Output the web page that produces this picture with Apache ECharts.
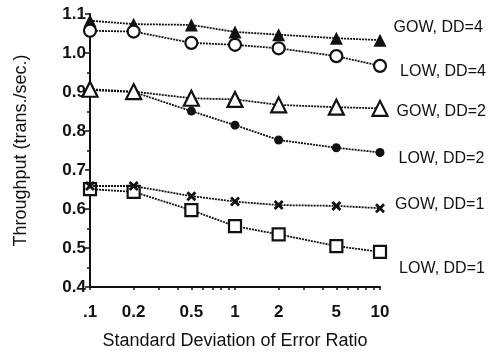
<!DOCTYPE html>
<html>
<head>
<meta charset="utf-8">
<script src="https://cdn.jsdelivr.net/npm/echarts@6/dist/echarts.min.js"></script>
<style>
  html, body { margin: 0; padding: 0; background: #fff; }
  #chart { width: 493px; height: 353px; }
</style>
</head>
<body>
<div id="chart"></div>
<script>
// Standard deviation of error ratio (log scale)
const sdRatio = [0.1, 0.2, 0.5, 1, 2, 5, 10];
const xTickLabels = ['.1', '0.2', '0.5', '1', '2', '5', '10'];
const xMinorTicks = [0.1, 0.2, 0.3, 0.4, 0.5, 0.6, 0.7, 0.8, 0.9, 1, 2, 3, 4, 5, 6, 7, 8, 9, 10];

// Throughput (trans./sec.)
const gowDD4 = [1.083, 1.074, 1.072, 1.054, 1.047, 1.038, 1.033];
const lowDD4 = [1.057, 1.055, 1.026, 1.021, 1.012, 0.992, 0.967];
const gowDD2 = [0.907, 0.901, 0.884, 0.881, 0.867, 0.861, 0.858];
const lowDD2 = [0.905, 0.900, 0.851, 0.815, 0.777, 0.757, 0.745];
const gowDD1 = [0.659, 0.659, 0.633, 0.619, 0.610, 0.608, 0.602];
const lowDD1 = [0.651, 0.644, 0.597, 0.556, 0.535, 0.505, 0.490];

const seriesNames = ['GOW, DD=4', 'LOW, DD=4', 'GOW, DD=2', 'LOW, DD=2', 'GOW, DD=1', 'LOW, DD=1'];

const FONT = '"Liberation Sans", Arial, Helvetica, sans-serif';
const crossPath = 'path://M0,2 L2,0 L5,3 L8,0 L10,2 L7,5 L10,8 L8,10 L5,7 L2,10 L0,8 L3,5 Z';

function makeSeries(name, values, style) {
  const data = values.map((v, i) => [sdRatio[i], v]);
  const last = data.length - 1;
  data[last] = {
    value: data[last],
    label: {
      show: true,
      position: 'right',
      formatter: name,
      offset: style.labelOffset,
      color: '#111',
      fontFamily: FONT,
      fontSize: 16
    }
  };
  return {
    name: name,
    type: 'line',
    data: data,
    symbol: style.symbol,
    symbolSize: style.size,
    showAllSymbol: true,
    lineStyle: { color: '#111', width: 1.8, type: [2, 1] },
    itemStyle: {
      color: style.filled ? '#111' : '#fff',
      borderColor: '#111',
      borderWidth: style.filled ? 0 : 2.2
    },
    z: style.z
  };
}

const chart = echarts.init(document.getElementById('chart'), null, { renderer: 'canvas' });

chart.setOption({
  animation: false,
  backgroundColor: '#fff',
  grid: {
    left: 90, top: 14, width: 290, height: 273,
    containLabel: false,
    outerBoundsMode: 'none'
  },
  xAxis: {
    type: 'log',
    logBase: 10,
    min: 0.1,
    max: 10,
    name: 'Standard Deviation of Error Ratio',
    nameLocation: 'middle',
    nameGap: 45,
    nameTextStyle: { fontFamily: FONT, fontSize: 18, color: '#111' },
    axisLine: { show: true, onZero: false, lineStyle: { color: '#111', width: 2 } },
    axisTick: { show: true, customValues: xMinorTicks, length: 3, lineStyle: { color: '#111', width: 1.5 } },
    axisLabel: {
      show: true,
      customValues: sdRatio,
      margin: 17,
      fontFamily: FONT,
      fontSize: 17,
      fontWeight: 'bold',
      color: '#111',
      formatter: function (v) {
        const i = sdRatio.findIndex(s => Math.abs(s - v) < 1e-9);
        return i >= 0 ? xTickLabels[i] : '';
      }
    },
    splitLine: { show: false },
    minorTick: { show: false }
  },
  yAxis: {
    type: 'value',
    min: 0.4,
    max: 1.1,
    interval: 0.1,
    name: 'Throughput (trans./sec.)',
    nameLocation: 'middle',
    nameGap: 60,
    nameRotate: 90,
    nameTextStyle: { fontFamily: FONT, fontSize: 18, color: '#111' },
    axisLine: { show: true, lineStyle: { color: '#111', width: 2 } },
    axisTick: { show: true, length: 5, lineStyle: { color: '#111', width: 1.5 } },
    minorTick: { show: true, splitNumber: 2, length: 3, lineStyle: { color: '#111', width: 1.5 } },
    axisLabel: {
      margin: 4,
      fontFamily: FONT,
      fontSize: 17,
      fontWeight: 'bold',
      color: '#111',
      formatter: v => v.toFixed(1)
    },
    splitLine: { show: false }
  },
  series: [
    makeSeries(seriesNames[0], gowDD4, { symbol: 'triangle', size: 13, filled: true, labelOffset: [2, -13], z: 3 }),
    makeSeries(seriesNames[1], lowDD4, { symbol: 'circle', size: 12, filled: false, labelOffset: [8, 6], z: 4 }),
    makeSeries(seriesNames[2], gowDD2, { symbol: 'triangle', size: 15, filled: false, labelOffset: [3, 3], z: 5 }),
    makeSeries(seriesNames[3], lowDD2, { symbol: 'circle', size: 9, filled: true, labelOffset: [9, 6], z: 3 }),
    makeSeries(seriesNames[4], gowDD1, { symbol: crossPath, size: 10, filled: true, labelOffset: [5, -4], z: 4 }),
    makeSeries(seriesNames[5], lowDD1, { symbol: 'rect', size: 12, filled: false, labelOffset: [7, 17], z: 3 })
  ]
});
</script>
</body>
</html>
